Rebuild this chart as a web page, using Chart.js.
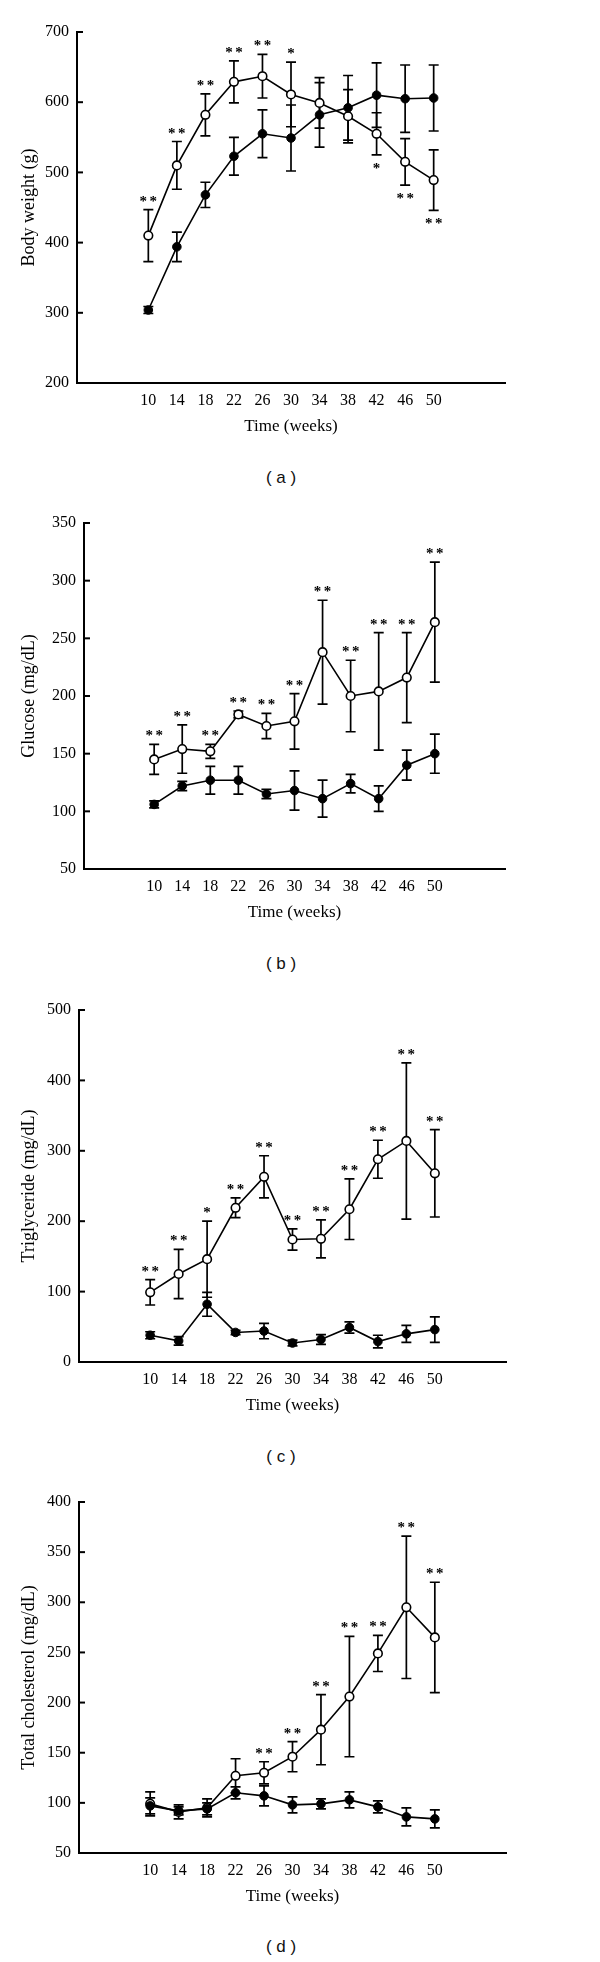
<!DOCTYPE html>
<html>
<head>
<meta charset="utf-8">
<script src="https://cdn.jsdelivr.net/npm/chart.js@4.4.1/dist/chart.umd.min.js"></script>
<style>
  body { margin: 0; background: #fff; }
  #page { position: relative; width: 600px; height: 1962px; }
  .panel { position: absolute; left: 0; }
  .caption {
    position: absolute; left: 0; width: 562px; height: 22px; line-height: 22px;
    text-align: center; font: 17px "Liberation Sans", Arial, sans-serif; color: #111;
  }
</style>
</head>
<body>
<div id="page">
  <canvas class="panel" id="chartA" width="600" height="445" style="top:0px"></canvas>
  <div class="caption" style="top:468px">( a )</div>
  <canvas class="panel" id="chartB" width="600" height="441" style="top:490px"></canvas>
  <div class="caption" style="top:954px">( b )</div>
  <canvas class="panel" id="chartC" width="600" height="444" style="top:980px"></canvas>
  <div class="caption" style="top:1447px">( c )</div>
  <canvas class="panel" id="chartD" width="600" height="445" style="top:1470px"></canvas>
  <div class="caption" style="top:1937px">( d )</div>
</div>
<script>
const weeks = [10, 14, 18, 22, 26, 30, 34, 38, 42, 46, 50];

// (a) body weight (g)
const bwOpen = [410, 510, 582, 629, 637, 611, 599, 580, 555, 515, 489];
const bwOpenSd = [37, 34, 30, 30, 31, 46, 36, 38, 30, 33, 43];
const bwFilled = [304, 394, 468, 523, 555, 549, 582, 592, 610, 605, 606];
const bwFilledSd = [5, 21, 18, 27, 34, 47, 46, 46, 46, 48, 47];
const bwStars = ["**", "**", "**", "**", "**", "*", "", "", "*", "**", "**"];
const bwStarSide = ["up", "up", "up", "up", "up", "up", "", "", "down", "down", "down"];

// (b) glucose (mg/dL)
const gluOpen = [145, 154, 152, 184, 174, 178, 238, 200, 204, 216, 264];
const gluOpenSd = [13, 21, 6, 3, 11, 24, 45, 31, 51, 39, 52];
const gluFilled = [106, 122, 127, 127, 115, 118, 111, 124, 111, 140, 150];
const gluFilledSd = [3, 4, 12, 12, 4, 17, 16, 8, 11, 13, 17];
const gluStars = ["**", "**", "**", "**", "**", "**", "**", "**", "**", "**", "**"];

// (c) triglyceride (mg/dL)
const tgOpen = [99, 125, 146, 219, 263, 174, 175, 217, 288, 314, 268];
const tgOpenSd = [18, 35, 54, 14, 30, 15, 27, 43, 27, 111, 62];
const tgFilled = [38, 30, 82, 42, 44, 27, 32, 49, 29, 40, 46];
const tgFilledSd = [5, 6, 17, 3, 11, 4, 7, 8, 9, 12, 18];
const tgStars = ["**", "**", "*", "**", "**", "**", "**", "**", "**", "**", "**"];

// (d) total cholesterol (mg/dL)
const tcOpen = [99, 91, 95, 127, 130, 146, 173, 206, 249, 295, 265];
const tcOpenSd = [12, 7, 9, 17, 11, 15, 35, 60, 18, 71, 55];
const tcFilled = [97, 92, 94, 110, 107, 98, 99, 103, 96, 86, 84];
const tcFilledSd = [8, 4, 6, 6, 10, 8, 5, 8, 6, 9, 9];
const tcStars = ["", "", "", "", "**", "**", "**", "**", "**", "**", "**"];

const allUp = weeks.map(() => "up");

// error bars, significance stars and inward y ticks
const errorBarPlugin = {
  id: "errorBars",
  beforeDatasetsDraw(chart) {
    const { ctx, scales: { x, y } } = chart;
    ctx.save();
    ctx.strokeStyle = "#000";
    ctx.lineWidth = 1.7;
    chart.data.datasets.forEach((ds) => {
      ds.data.forEach((p, i) => {
        const px = x.getPixelForValue(p.x);
        const top = y.getPixelForValue(p.y + ds.sd[i]);
        const bot = y.getPixelForValue(p.y - ds.sd[i]);
        ctx.beginPath();
        ctx.moveTo(px, top); ctx.lineTo(px, bot);
        ctx.moveTo(px - 5, top); ctx.lineTo(px + 5, top);
        ctx.moveTo(px - 5, bot); ctx.lineTo(px + 5, bot);
        ctx.stroke();
      });
    });
    ctx.restore();
  },
  afterDatasetsDraw(chart) {
    const { ctx, chartArea, scales: { x, y } } = chart;
    ctx.save();
    ctx.fillStyle = "#000";
    ctx.font = 'bold 15px "Liberation Serif", serif';
    ctx.textAlign = "center";
    ctx.textBaseline = "alphabetic";
    const m = ctx.measureText("*");
    const shift = (m.actualBoundingBoxAscent - m.actualBoundingBoxDescent) / 2;
    chart.data.datasets.forEach((ds) => {
      if (!ds.stars) return;
      ds.data.forEach((p, i) => {
        const s = ds.stars[i];
        if (!s) return;
        const px = x.getPixelForValue(p.x);
        let cy;
        if (ds.starSide[i] === "down") {
          cy = y.getPixelForValue(p.y - ds.sd[i]) + 11;
        } else {
          cy = y.getPixelForValue(p.y + ds.sd[i]) - 11;
        }
        for (let k = 0; k < s.length; k++) {
          ctx.fillText("*", px + (k - (s.length - 1) / 2) * 10, cy + shift);
        }
      });
    });
    // small ticks pointing into the plot
    ctx.strokeStyle = "#000";
    ctx.lineWidth = 2;
    y.ticks.forEach((t) => {
      const py = y.getPixelForValue(t.value);
      ctx.beginPath();
      ctx.moveTo(chartArea.left, py);
      ctx.lineTo(chartArea.left + 6, py);
      ctx.stroke();
    });
    ctx.restore();
  }
};

function toPoints(vals) {
  return vals.map((v, i) => ({ x: weeks[i], y: v }));
}

function makePanel(id, g) {
  const serif = '"Liberation Serif", "Times New Roman", serif';
  return new Chart(document.getElementById(id), {
    type: "line",
    data: {
      datasets: [
        {
          data: toPoints(g.filled),
          sd: g.filledSd,
          borderColor: "#000",
          borderWidth: 1.6,
          pointRadius: 4.3,
          pointBackgroundColor: "#000",
          pointBorderColor: "#000",
          pointBorderWidth: 1,
          tension: 0
        },
        {
          data: toPoints(g.open),
          sd: g.openSd,
          stars: g.stars,
          starSide: g.starSide,
          borderColor: "#000",
          borderWidth: 1.6,
          pointRadius: 4.3,
          pointBackgroundColor: "#fff",
          pointBorderColor: "#000",
          pointBorderWidth: 1.6,
          tension: 0
        }
      ]
    },
    options: {
      responsive: false,
      animation: false,
      layout: { padding: { top: g.padTop, right: 600 - g.right, left: 0, bottom: 0 } },
      plugins: { legend: { display: false }, tooltip: { enabled: false } },
      scales: {
        x: {
          type: "linear",
          min: 0,
          max: 60,
          afterBuildTicks: (s) => { s.ticks = weeks.map((v) => ({ value: v })); },
          afterFit: (s) => { s.height = 62; },
          grid: { display: false, drawTicks: false },
          border: { display: true, color: "#000", width: 2 },
          ticks: { color: "#000", font: { family: serif, size: 16 }, padding: 8, maxRotation: 0, autoSkip: false },
          title: {
            display: true, text: "Time (weeks)", color: "#000",
            font: { family: serif, size: 17 }, padding: { top: 0, bottom: 8 }
          }
        },
        y: {
          min: g.min,
          max: g.max,
          afterFit: (s) => { s.width = g.left; },
          grid: { display: false, drawTicks: false },
          border: { display: true, color: "#000", width: 2 },
          ticks: { stepSize: g.step, color: "#000", font: { family: serif, size: 16 }, padding: 8 },
          title: {
            display: true, text: g.yTitle, color: "#000",
            font: { family: serif, size: 18 }, padding: { top: 18, bottom: 0 }
          }
        }
      }
    },
    plugins: [errorBarPlugin]
  });
}

makePanel("chartA", {
  open: bwOpen, openSd: bwOpenSd, filled: bwFilled, filledSd: bwFilledSd,
  stars: bwStars, starSide: bwStarSide,
  min: 200, max: 700, step: 100, yTitle: "Body weight (g)",
  padTop: 32, left: 77, right: 505
});
makePanel("chartB", {
  open: gluOpen, openSd: gluOpenSd, filled: gluFilled, filledSd: gluFilledSd,
  stars: gluStars, starSide: allUp,
  min: 50, max: 350, step: 50, yTitle: "Glucose (mg/dL)",
  padTop: 33, left: 84, right: 505
});
makePanel("chartC", {
  open: tgOpen, openSd: tgOpenSd, filled: tgFilled, filledSd: tgFilledSd,
  stars: tgStars, starSide: allUp,
  min: 0, max: 500, step: 100, yTitle: "Triglyceride (mg/dL)",
  padTop: 30, left: 79, right: 506
});
makePanel("chartD", {
  open: tcOpen, openSd: tcOpenSd, filled: tcFilled, filledSd: tcFilledSd,
  stars: tcStars, starSide: allUp,
  min: 50, max: 400, step: 50, yTitle: "Total cholesterol (mg/dL)",
  padTop: 32, left: 79, right: 506
});
</script>
</body>
</html>
